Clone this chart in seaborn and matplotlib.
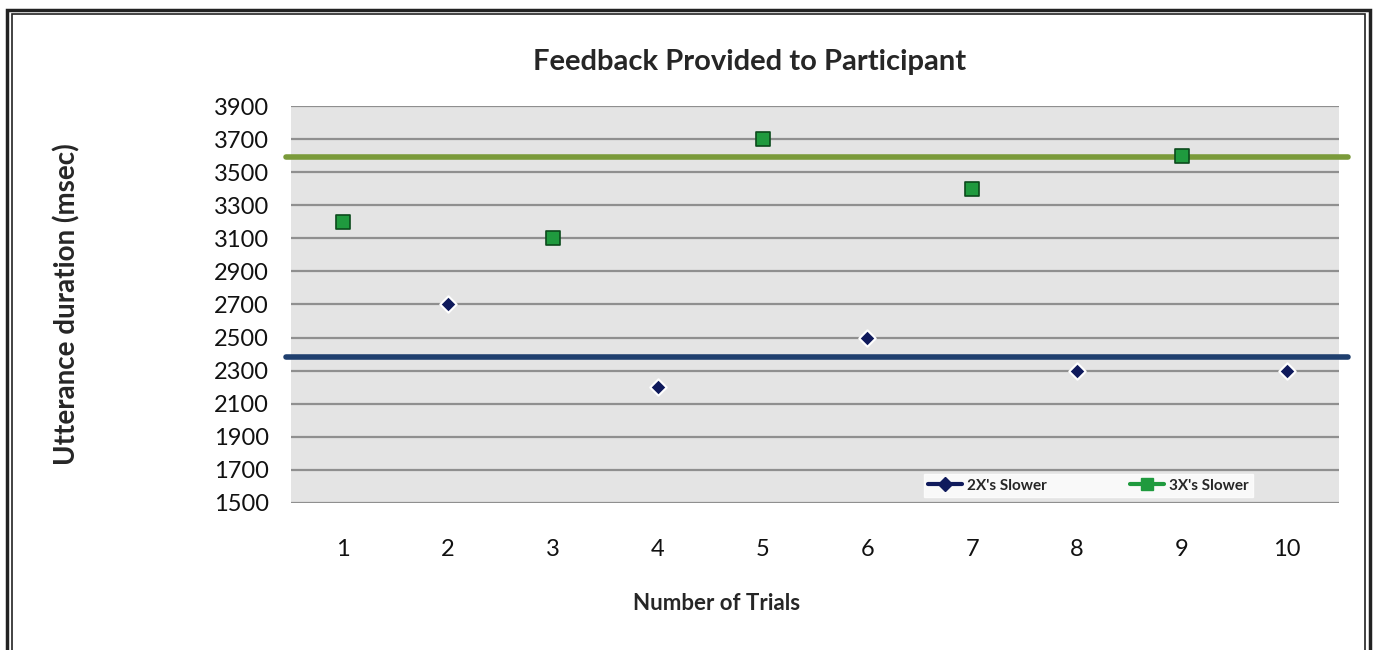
import matplotlib
matplotlib.use("Agg")
import matplotlib.pyplot as plt
from matplotlib.lines import Line2D
from matplotlib.patches import Rectangle
import pandas as pd
import seaborn as sns

# chart values
trials_2x = [2, 4, 6, 8, 10]
values_2x = [2700, 2200, 2500, 2300, 2300]
trials_3x = [1, 3, 5, 7, 9]
values_3x = [3200, 3100, 3700, 3400, 3600]
series_names = ["2X's Slower", "3X's Slower"]
threshold_2x = 2380
threshold_3x = 3590
y_ticks = list(range(1500, 4000, 200))
x_ticks = list(range(1, 11))

df = pd.DataFrame({
    "trial": trials_2x + trials_3x,
    "duration": values_2x + values_3x,
    "series": [series_names[0]] * len(trials_2x) + [series_names[1]] * len(trials_3x),
})

sns.set_theme(style="white")
plt.rcParams["font.family"] = ["Lato", "DejaVu Sans"]

navy = "#0f1a5c"
green = "#1f9a3e"
olive = "#7a9a3a"
blue_line = "#1f3f6e"

fig = plt.figure(figsize=(13.75, 6.5), dpi=100)
ax = fig.add_axes([0.2116, 0.2262, 0.7622, 0.6107])
ax.set_facecolor("#e4e4e4")

# horizontal gridlines
for y in y_ticks:
    ax.axhline(y, color="#8f8f8f", lw=1.6, zorder=1)

# threshold lines reaching slightly past the plot area
ax.axhline(threshold_3x, xmin=-0.005, xmax=1.009, color=olive, lw=4, clip_on=False, zorder=2)
ax.axhline(threshold_2x, xmin=-0.005, xmax=1.009, color=blue_line, lw=4, clip_on=False, zorder=2)

sns.scatterplot(data=df[df.series == series_names[0]], x="trial", y="duration", ax=ax,
                marker="D", s=70, color=navy, edgecolor="white", linewidth=1.5,
                legend=False, zorder=3)
sns.scatterplot(data=df[df.series == series_names[1]], x="trial", y="duration", ax=ax,
                marker="s", s=110, color=green, edgecolor="#0b4a1c", linewidth=1.2,
                legend=False, zorder=3)

ax.set_xlim(0.5, 10.5)
ax.set_ylim(1500, 3900)
ax.set_xticks(x_ticks)
ax.set_yticks(y_ticks)
ax.tick_params(axis="both", length=0, labelsize=17, colors="#111111")
ax.tick_params(axis="x", pad=26)
ax.tick_params(axis="y", pad=16)
for s in ax.spines.values():
    s.set_visible(False)

ax.set_xlabel("Number of Trials", fontsize=16, fontweight="bold")
ax.xaxis.set_label_coords(0.4065, -0.227)
ax.set_ylabel("Utterance duration (msec)", fontsize=20, fontweight="bold")
ax.yaxis.set_label_coords(-0.201, 0.5)
ax.set_title("Feedback Provided to Participant", fontsize=21, fontweight="bold", pad=26, x=0.438)

handles = [
    Line2D([0], [0], color=navy, lw=3, marker="D", markersize=7, markerfacecolor=navy),
    Line2D([0], [0], color=green, lw=3, marker="s", markersize=8, markerfacecolor=green),
]
leg = ax.legend(handles, series_names, loc="lower right", bbox_to_anchor=(0.925, -0.005),
                ncol=2, fontsize=11, frameon=True, facecolor="white", edgecolor="white",
                fancybox=False, handlelength=2.2, columnspacing=5.5, borderpad=0.3,
                handletextpad=0.3)
for t in leg.get_texts():
    t.set_fontweight("bold")

# double frame around the chart
fig.patches.append(Rectangle((0.005, -0.05), 0.991, 1.035, transform=fig.transFigure,
                             fill=False, edgecolor="#222222", lw=2.5))
fig.patches.append(Rectangle((0.0085, -0.05), 0.984, 1.029, transform=fig.transFigure,
                             fill=False, edgecolor="#222222", lw=1.2))

fig.savefig("out.png", dpi=100)
